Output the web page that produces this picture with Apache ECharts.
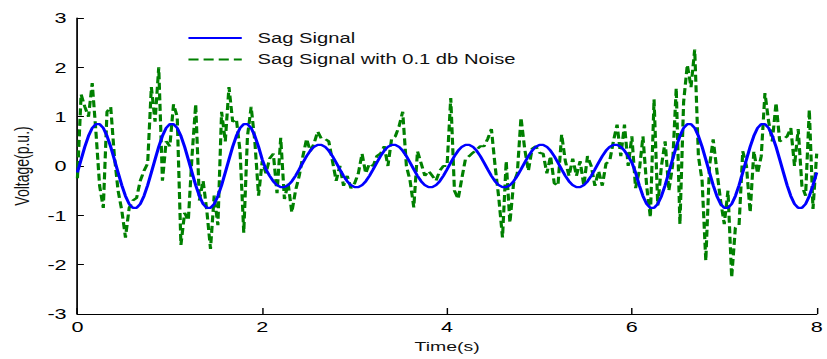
<!DOCTYPE html>
<html>
<head>
<meta charset="utf-8">
<script src="https://cdn.jsdelivr.net/npm/echarts@6/dist/echarts.min.js"></script>
<style>
html,body{margin:0;padding:0;background:#fff;}
#wrap{width:827px;height:359px;overflow:hidden;position:relative;background:#fff;}
#chart{width:574px;height:359px;transform:scaleX(1.4408);transform-origin:0 0;}
</style>
</head>
<body>
<div id="wrap"><div id="chart"></div></div>
<script>
// Time samples (s)
const timeValues = [
0,0.04,0.08,0.12,0.16,0.2,0.24,0.28,0.32,0.36,0.4,0.44,0.48,0.52,0.56,0.6,0.64,0.68,0.72,0.76,
0.8,0.84,0.88,0.92,0.96,1,1.04,1.08,1.12,1.16,1.2,1.24,1.28,1.32,1.36,1.4,1.44,1.48,1.52,1.56,
1.6,1.64,1.68,1.72,1.76,1.8,1.84,1.88,1.92,1.96,2,2.04,2.08,2.12,2.16,2.2,2.24,2.28,2.32,2.36,
2.4,2.44,2.48,2.52,2.56,2.6,2.64,2.68,2.72,2.76,2.8,2.84,2.88,2.92,2.96,3,3.04,3.08,3.12,3.16,
3.2,3.24,3.28,3.32,3.36,3.4,3.44,3.48,3.52,3.56,3.6,3.64,3.68,3.72,3.76,3.8,3.84,3.88,3.92,3.96,
4,4.04,4.08,4.12,4.16,4.2,4.24,4.28,4.32,4.36,4.4,4.44,4.48,4.52,4.56,4.6,4.64,4.68,4.72,4.76,
4.8,4.84,4.88,4.92,4.96,5,5.04,5.08,5.12,5.16,5.2,5.24,5.28,5.32,5.36,5.4,5.44,5.48,5.52,5.56,
5.6,5.64,5.68,5.72,5.76,5.8,5.84,5.88,5.92,5.96,6,6.04,6.08,6.12,6.16,6.2,6.24,6.28,6.32,6.36,
6.4,6.44,6.48,6.52,6.56,6.6,6.64,6.68,6.72,6.76,6.8,6.84,6.88,6.92,6.96,7,7.04,7.08,7.12,7.16,
7.2,7.24,7.28,7.32,7.36,7.4,7.44,7.48,7.52,7.56,7.6,7.64,7.68,7.72,7.76,7.8,7.84,7.88,7.92,7.96,
8
];

// Sag Signal (p.u.)
const sagSignal = [
-0.13,0.13,0.39,0.61,0.77,0.85,0.85,0.77,0.61,0.39,0.13,-0.13,-0.39,-0.61,-0.77,-0.85,-0.85,-0.77,-0.61,-0.39,
-0.13,0.13,0.39,0.61,0.77,0.85,0.85,0.77,0.61,0.39,0.13,-0.13,-0.39,-0.61,-0.77,-0.85,-0.85,-0.77,-0.61,-0.39,
-0.13,0.13,0.39,0.61,0.77,0.85,0.85,0.77,0.61,0.39,0.13,-0.07,-0.2,-0.31,-0.39,-0.43,-0.43,-0.39,-0.31,-0.2,
-0.07,0.07,0.2,0.31,0.39,0.43,0.43,0.39,0.31,0.2,0.07,-0.07,-0.2,-0.31,-0.39,-0.43,-0.43,-0.39,-0.31,-0.2,
-0.07,0.07,0.2,0.31,0.39,0.43,0.43,0.39,0.31,0.2,0.07,-0.07,-0.2,-0.31,-0.39,-0.43,-0.43,-0.39,-0.31,-0.2,
-0.07,0.07,0.2,0.31,0.39,0.43,0.43,0.39,0.31,0.2,0.07,-0.07,-0.2,-0.31,-0.39,-0.43,-0.43,-0.39,-0.31,-0.2,
-0.07,0.07,0.2,0.31,0.39,0.43,0.43,0.39,0.31,0.2,0.07,-0.07,-0.2,-0.31,-0.39,-0.43,-0.43,-0.39,-0.31,-0.2,
-0.07,0.07,0.2,0.31,0.39,0.43,0.43,0.39,0.31,0.2,0.07,-0.13,-0.39,-0.61,-0.77,-0.85,-0.85,-0.77,-0.61,-0.39,
-0.13,0.13,0.39,0.61,0.77,0.85,0.85,0.77,0.61,0.39,0.13,-0.13,-0.39,-0.61,-0.77,-0.85,-0.85,-0.77,-0.61,-0.39,
-0.13,0.13,0.39,0.61,0.77,0.85,0.85,0.77,0.61,0.39,0.13,-0.13,-0.39,-0.61,-0.77,-0.85,-0.85,-0.77,-0.61,-0.39,
-0.13
];

// Sag Signal with 0.1 db Noise (p.u.)
const noisySignal = [
-0.25,1.45,1.2,1.0,1.68,0.7,-0.4,-0.85,1.1,1.2,0.2,-0.5,-0.9,-1.45,-0.85,-0.7,-0.65,-0.3,-0.1,0.05,
1.6,0.9,2.0,-0.3,0.5,0.4,1.25,1.0,-1.6,-0.95,-1.1,0.2,1.25,-0.7,-0.3,-0.9,-1.68,-0.6,-1.2,1.1,
0.5,1.6,0.9,0.95,0.3,-1.35,0.6,1.2,0.5,-0.6,0.1,-0.15,0.15,0.25,-0.55,0.57,-0.67,-0.35,-0.94,-0.5,
-0.2,0.2,0.55,0.3,0.45,0.7,0.55,0.55,0.5,0.1,-0.3,0.0,-0.4,-0.2,-0.45,-0.35,-0.15,0.25,-0.15,0.05,
0.0,0.2,0.25,0.4,0.0,0.55,0.6,0.8,1.1,0.0,-0.3,-0.84,0.3,0.05,-0.2,-0.1,-0.2,-0.3,-0.1,0.0,
0.0,1.38,-0.5,-0.67,-0.25,0.15,0.2,0.27,0.33,0.4,0.4,0.55,0.75,0.0,-0.65,-1.45,0.1,-1.15,-0.35,-0.15,
0.98,0.35,-0.1,0.35,0.4,0.27,0.25,-0.15,0.2,-0.35,-0.4,0.64,0.1,-0.2,0.15,-0.2,0.1,-0.4,0.2,0.0,
-0.4,-0.1,-0.4,0.05,0.1,0.5,0.84,0.2,0.84,0.0,0.6,-0.45,-0.1,0.6,-0.4,-1.04,1.35,-0.8,0.0,0.5,
-0.5,0.0,1.58,-1.18,1.3,2.05,1.6,2.36,0.2,-0.3,-1.92,0.0,0.54,-0.1,-0.7,-1.18,-0.5,-2.26,-1.25,-1.2,
0.3,0.0,-0.94,0.3,-0.15,0.2,1.48,0.9,0.5,1.28,0.5,0.55,0.6,0.77,0.0,0.75,-0.4,-0.6,1.14,-0.87,
0.25
];

const xTicks = { min: 0, max: 8, interval: 2 };
const yTicks = { min: -3, max: 3, interval: 1 };

const FONT = "'Liberation Sans', Arial, Helvetica, sans-serif";
const chart = echarts.init(document.getElementById('chart'), null, { renderer: 'svg' });

chart.setOption({
  animation: false,
  backgroundColor: '#ffffff',
  grid: { left: 51.4, right: 4.2, top: 18, bottom: 44, containLabel: false },
  legend: {
    data: ['Sag Signal', 'Sag Signal with 0.1 db Noise'],
    orient: 'vertical',
    left: 124.8,
    top: 26,
    itemWidth: 37,
    itemHeight: 14,
    itemGap: 7.5,
    itemStyle: { opacity: 0 },
    textStyle: { fontFamily: FONT, fontSize: 14, color: '#111', padding: [0, 0, 0, 6] }
  },
  xAxis: {
    type: 'value',
    min: xTicks.min, max: xTicks.max, interval: xTicks.interval,
    name: 'Time(s)',
    nameLocation: 'middle',
    nameGap: 26,
    nameTextStyle: { fontFamily: FONT, fontSize: 13.5, color: '#111' },
    axisLine: { show: true, onZero: false, lineStyle: { color: '#000', width: 1.2 } },
    axisTick: { show: true, inside: true, length: 6, lineStyle: { color: '#000' } },
    axisLabel: { fontFamily: FONT, fontSize: 15, color: '#000', margin: 5 },
    splitLine: { show: false }
  },
  yAxis: {
    type: 'value',
    min: yTicks.min, max: yTicks.max, interval: yTicks.interval,
    name: 'Voltage(p.u.)',
    nameLocation: 'middle',
    nameGap: 30,
    nameTextStyle: { fontFamily: FONT, fontSize: 14, color: '#111' },
    axisLine: { show: true, onZero: false, lineStyle: { color: '#000', width: 1.2 } },
    axisTick: { show: true, inside: true, length: 4.5, lineStyle: { color: '#000' } },
    axisLabel: { fontFamily: FONT, fontSize: 15, color: '#000', margin: 7.5 },
    splitLine: { show: false }
  },
  series: [
    {
      name: 'Sag Signal with 0.1 db Noise',
      type: 'line',
      data: timeValues.map((t, i) => [t, noisySignal[i]]),
      symbol: 'none',
      showSymbol: false,
      lineStyle: { color: '#008000', width: 2.2, type: [7, 3.5] },
      itemStyle: { color: '#008000' },
      z: 2
    },
    {
      name: 'Sag Signal',
      type: 'line',
      data: timeValues.map((t, i) => [t, sagSignal[i]]),
      symbol: 'none',
      showSymbol: false,
      lineStyle: { color: '#0000ff', width: 2.2 },
      itemStyle: { color: '#0000ff' },
      z: 3
    }
  ]
});
</script>
</body>
</html>
